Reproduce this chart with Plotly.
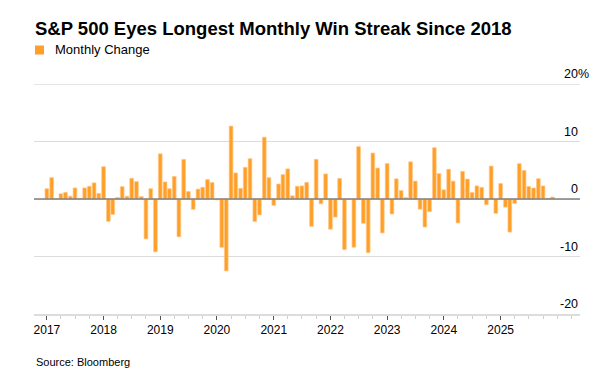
import pandas as pd
import plotly.graph_objects as go

# Monthly change (%) of the S&P 500, Jan 2017 - Dec 2025
v2017 = [1.79, 3.72, -0.04, 0.91, 1.16, 0.48, 1.93, 0.05, 1.93, 2.22, 2.81, 0.98]
v2018 = [5.62, -3.89, -2.69, 0.27, 2.16, 0.48, 3.60, 3.03, 0.43, -6.94, 1.79, -9.18]
v2019 = [7.87, 2.97, 1.79, 3.93, -6.58, 6.89, 1.31, -1.81, 1.72, 2.04, 3.40, 2.86]
v2020 = [-0.16, -8.41, -12.51, 12.68, 4.53, 1.84, 5.51, 7.01, -3.92, -2.77, 10.75, 3.71]
v2021 = [-1.11, 2.61, 4.24, 5.24, 0.55, 2.22, 2.27, 2.90, -4.76, 6.91, -0.83, 4.36]
v2022 = [-5.26, -3.14, 3.58, -8.80, 0.01, -8.39, 9.11, -4.24, -9.34, 7.99, 5.38, -5.90]
v2023 = [6.18, -2.61, 3.51, 1.46, 0.25, 6.47, 3.11, -1.77, -4.87, -2.20, 8.92, 4.42]
v2024 = [1.59, 5.17, 3.10, -4.16, 4.80, 3.47, 1.13, 2.28, 2.02, -0.99, 5.73, -2.50]
v2025 = [2.70, -1.42, -5.75, -0.76, 6.15, 4.96, 2.17, 1.91, 3.53, 2.27, 0.13, 0.35]

years = [2017, 2018, 2019, 2020, 2021, 2022, 2023, 2024, 2025]
year_values = [v2017, v2018, v2019, v2020, v2021, v2022, v2023, v2024, v2025]

x_tick_labels = ["2017", "2018", "2019", "2020", "2021", "2022", "2023", "2024", "2025"]
y_tick_values = [20, 10, 0, -10, -20]
y_tick_labels = ["20%", "10", "0", "-10", "-20"]

title_text = "S&P 500 Eyes Longest Monthly Win Streak Since 2018"
series_name = "Monthly Change"
source_text = "Source: Bloomberg"

dates = []
values = []
for y, vals in zip(years, year_values):
    for m, v in enumerate(vals, start=1):
        dates.append(pd.Timestamp(year=y, month=m, day=1))
        values.append(v)

FONT = "Liberation Sans, Arial, Helvetica, sans-serif"
ORANGE = "#FF9F27"
GRID = "#dcdcdc"

fig = go.Figure()
fig.add_trace(go.Bar(
    x=dates, y=values, name=series_name,
    marker=dict(color=ORANGE, line=dict(color="#FFC98A", width=0.7)),
    showlegend=False,
))

L, R, T, B = 34, 27, 84, 62
W, H = 607, 376
plot_h = H - T - B

fig.update_layout(
    width=W, height=H,
    margin=dict(l=L, r=R, t=T, b=B, pad=0),
    paper_bgcolor="white", plot_bgcolor="white",
    bargap=0.14,
    font=dict(family=FONT, size=12, color="#000"),
    xaxis=dict(
        type="date",
        range=["2016-10-10", "2026-05-27"],
        tickmode="array",
        tickvals=[pd.Timestamp(year=y, month=1, day=1) for y in years],
        ticktext=x_tick_labels,
        ticks="outside", ticklen=4, tickwidth=1, tickcolor="#555",
        showline=True, linecolor=GRID, linewidth=2,
        showgrid=False, zeroline=False,
        tickfont=dict(size=12, color="#000"),
        minor=dict(dtick="M3", tick0="2017-01-01", ticks="outside",
                   ticklen=3, tickcolor="#cfcfcf", tickwidth=1, showgrid=False),
    ),
    yaxis=dict(
        range=[-20.0, 20.0],
        tickvals=y_tick_values,
        showticklabels=False,
        showgrid=True, gridcolor=GRID, gridwidth=1,
        zeroline=False,
        fixedrange=True,
    ),
)

# top gridline (at range edge)
fig.add_shape(type="line", xref="paper", yref="y", x0=0, x1=1, y0=20, y1=20,
              line=dict(color=GRID, width=1.5), layer="below")
# zero line above bars
fig.add_shape(type="line", xref="paper", yref="y", x0=0, x1=1, y0=0, y1=0,
              line=dict(color="#808080", width=1.5), layer="above")

# right-hand y labels sitting above gridlines
for v, lab in zip(y_tick_values, y_tick_labels):
    shift = 10.7 if lab.endswith("%") else 0
    fig.add_annotation(x=1, xref="paper", y=v, yref="y", text=lab,
                       showarrow=False, xanchor="right", yanchor="bottom",
                       xshift=shift, yshift=1,
                       font=dict(size=12.5, color="#000", family=FONT))

# title
fig.add_annotation(x=0, xref="paper", xshift=-1, y=(H - B - 28) / plot_h, yref="paper",
                   text="<b>" + title_text + "</b>", showarrow=False,
                   xanchor="left", yanchor="middle",
                   font=dict(size=18.5, color="#000", family=FONT))
# legend
fig.add_shape(type="rect", xref="paper", yref="paper",
              x0=1 / 546, x1=10 / 546,
              y0=(H - B - 54.5) / plot_h, y1=(H - B - 45.5) / plot_h,
              fillcolor=ORANGE, line=dict(width=0))
fig.add_annotation(x=(53 - L) / 546, xref="paper", y=(H - B - 50) / plot_h, yref="paper",
                   text=series_name, showarrow=False, xanchor="left", yanchor="middle",
                   font=dict(size=13, color="#000", family=FONT))
# source
fig.add_annotation(x=0, xref="paper", y=-(362 - (H - B)) / plot_h, yref="paper",
                   text=source_text, showarrow=False, xanchor="left", yanchor="middle",
                   font=dict(size=11, color="#000", family=FONT))

fig.write_html("out.html", config={"displayModeBar": False},
               post_script="document.body.style.margin='0';")
